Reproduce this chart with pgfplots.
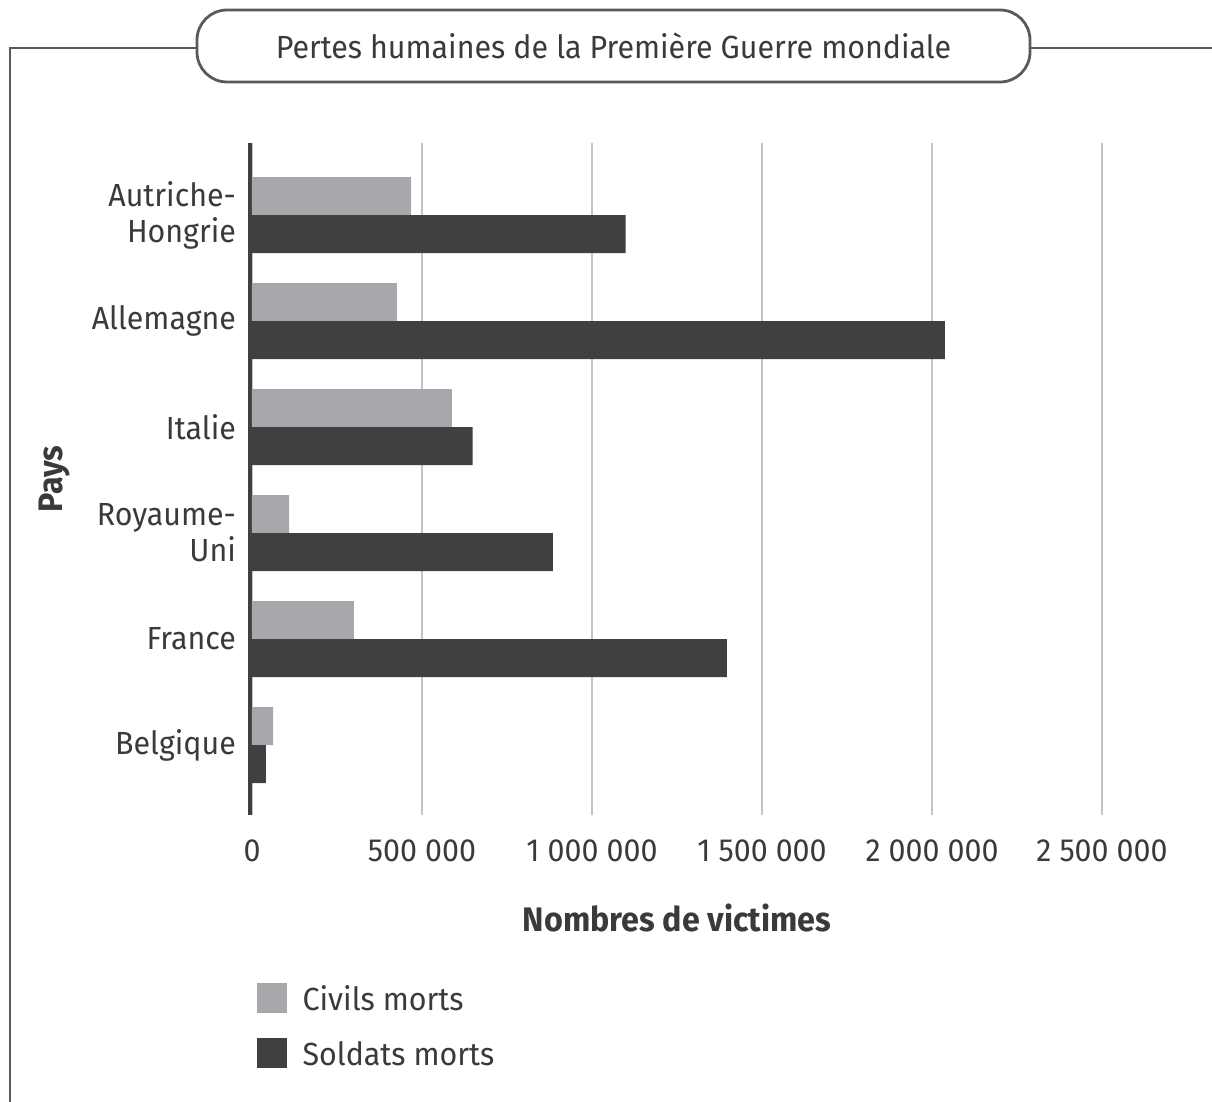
\documentclass[border=0pt]{standalone}
\usepackage{fontspec}
\setmainfont{Fira Sans}[FakeStretch=0.95]
\usepackage{pgfplots}
\pgfplotsset{compat=1.18}
\definecolor{civ}{HTML}{A7A8AC}
\definecolor{sol}{HTML}{404040}
\definecolor{grd}{HTML}{C4C4C8}
\definecolor{txt}{HTML}{3A3A3A}
\definecolor{frm}{HTML}{5A5A5A}
\newcommand{\lbl}{\fontsize{16}{18}\selectfont}
\newcommand{\blbl}{\fontsize{17}{19}\selectfont}
\begin{document}
\begin{tikzpicture}
\useasboundingbox (0pt,0pt) rectangle (606pt,-551pt);
\draw[frm,line width=1.4pt] (5pt,-551pt) -- (5pt,-24pt) -- (98.5pt,-24pt);
\draw[frm,line width=1.4pt] (515pt,-24pt) -- (606pt,-24pt);
\draw[frm,line width=1.4pt,rounded corners=15pt,fill=white] (98.5pt,-5pt) rectangle (515pt,-41pt);
\node[text=txt,font=\lbl] at (306.75pt,-23pt) {Pertes humaines de la Première Guerre mondiale};
\begin{axis}[
  at={(126pt,-407.5pt)}, anchor=south west,
  scale only axis, width=425pt, height=336pt,
  xmin=0, xmax=2500000, ymin=-0.66, ymax=5.68,
  xbar, bar width=19pt, bar shift=0pt,
  axis x line*=bottom, axis y line*=left,
  axis line style={-},
  x axis line style={draw=none},
  y axis line style={draw=sol, line width=2pt, xshift=-1pt},
  xmajorgrids, grid style={grd, line width=1pt},
  major tick length=0pt,
  ytick={0,1,2,3,4,5},
  yticklabels={Belgique,France,{Royaume-\\Uni},Italie,Allemagne,{Autriche-\\Hongrie}},
  yticklabel style={align=right, xshift=-4.5pt},
  xtick={0,500000,1000000,1500000,2000000,2500000},
  xticklabels={0,500 000,1 000 000,1 500 000,2 000 000,2 500 000},
  xticklabel style={yshift=-9pt},
  scaled x ticks=false,
  tick label style={font=\lbl, text=txt},
  xlabel={Nombres de victimes},
  xlabel style={font=\bfseries\blbl, text=txt, at={(axis description cs:0.5,-0.153)}, anchor=center},
  ylabel={Pays},
  ylabel style={font=\bfseries\blbl, text=txt, at={(axis description cs:-0.232,0.5)}, anchor=center},
  legend style={at={(axis description cs:0.005,-0.2495)}, anchor=north west, draw=none, fill=none,
    font=\lbl, text=txt, row sep=10.5pt, inner sep=0pt,
    nodes={inner sep=0pt, text height=11.5pt, text depth=3.5pt},
    /tikz/every odd column/.append style={column sep=8pt}},
  legend cell align=left,
  legend image code/.code={\fill[#1] (0pt,-5.5pt) rectangle (15pt,9.5pt);},
]
\addplot[fill=civ, draw=none, bar shift=0pt] coordinates {
  (62000,0.179) (300000,1.179) (109000,2.179) (588000,3.179) (426000,4.179) (468000,5.179)};
\addlegendentry{Civils morts}
\addplot[fill=sol, draw=none, bar shift=0pt] coordinates {
  (41000,-0.179) (1397000,0.821) (885000,1.821) (649000,2.821) (2038000,3.821) (1099000,4.821)};
\addlegendentry{Soldats morts}
\end{axis}
\end{tikzpicture}
\end{document}
